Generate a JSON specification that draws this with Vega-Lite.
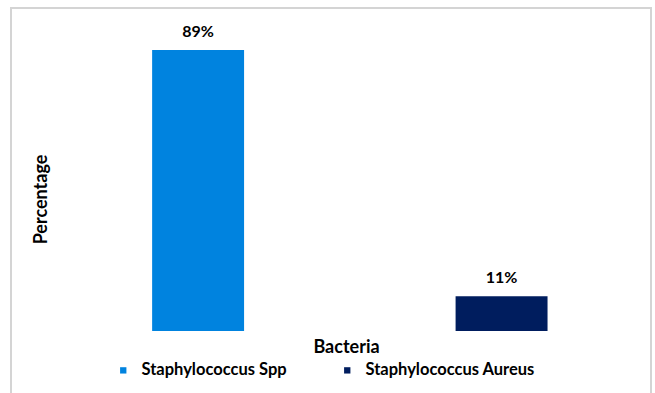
{
  "$schema": "https://vega.github.io/schema/vega-lite/v6.json",
  "autosize": {"type": "none"},
  "padding": {"left": 11, "top": 8, "right": 4, "bottom": 0},
  "width": 640,
  "height": 400,
  "background": "white",
  "config": {
    "font": "Lato",
    "view": {"stroke": "#d4d4d4", "strokeWidth": 2}
  },
  "data": {
    "values": [
      {"Bacteria": "Staphylococcus Spp", "Percentage": 89, "Label": "89%"},
      {"Bacteria": "Staphylococcus Aureus", "Percentage": 11, "Label": "11%"}
    ]
  },
  "encoding": {
    "x": {
      "field": "Bacteria",
      "type": "nominal",
      "sort": null,
      "scale": {"paddingInner": 0.697, "paddingOuter": 0.403, "align": 0.577},
      "axis": {
        "title": "Bacteria",
        "labels": false,
        "ticks": false,
        "domain": false,
        "grid": false,
        "titleX": 335,
        "titleY": -56,
        "titleAlign": "center",
        "titleBaseline": "alphabetic",
        "titleFontSize": 18,
        "titleFontWeight": "bold",
        "titleColor": "#000000"
      }
    },
    "y": {
      "field": "Percentage",
      "type": "quantitative",
      "scale": {"domain": [-24.39, 102.3], "nice": false, "zero": false},
      "axis": {
        "title": "Percentage",
        "labels": false,
        "ticks": false,
        "domain": false,
        "grid": false,
        "minExtent": 0,
        "maxExtent": 0,
        "titleX": 39,
        "titleY": 191,
        "titleAngle": 270,
        "titleAlign": "center",
        "titleBaseline": "bottom",
        "titleFontSize": 18,
        "titleFontWeight": "bold",
        "titleColor": "#000000"
      }
    }
  },
  "layer": [
    {
      "mark": {"type": "bar"},
      "encoding": {
        "y2": {"datum": 0},
        "color": {
          "field": "Bacteria",
          "type": "nominal",
          "sort": null,
          "scale": {"range": ["#0083DF", "#001D5E"]},
          "legend": {
            "orient": "none",
            "legendX": 104,
            "legendY": 354,
            "direction": "horizontal",
            "title": null,
            "symbolType": "square",
            "symbolSize": 40,
            "symbolStrokeWidth": 0,
            "labelFontSize": 16.5,
            "labelFontWeight": "bold",
            "labelColor": "#000000",
            "labelLimit": 0,
            "labelOffset": 10,
            "columnPadding": 52
          }
        }
      }
    },
    {
      "mark": {"type": "text", "dy": -13, "baseline": "alphabetic", "fontSize": 16, "fontWeight": "bold", "color": "#000000"},
      "encoding": {"text": {"field": "Label"}}
    }
  ]
}
